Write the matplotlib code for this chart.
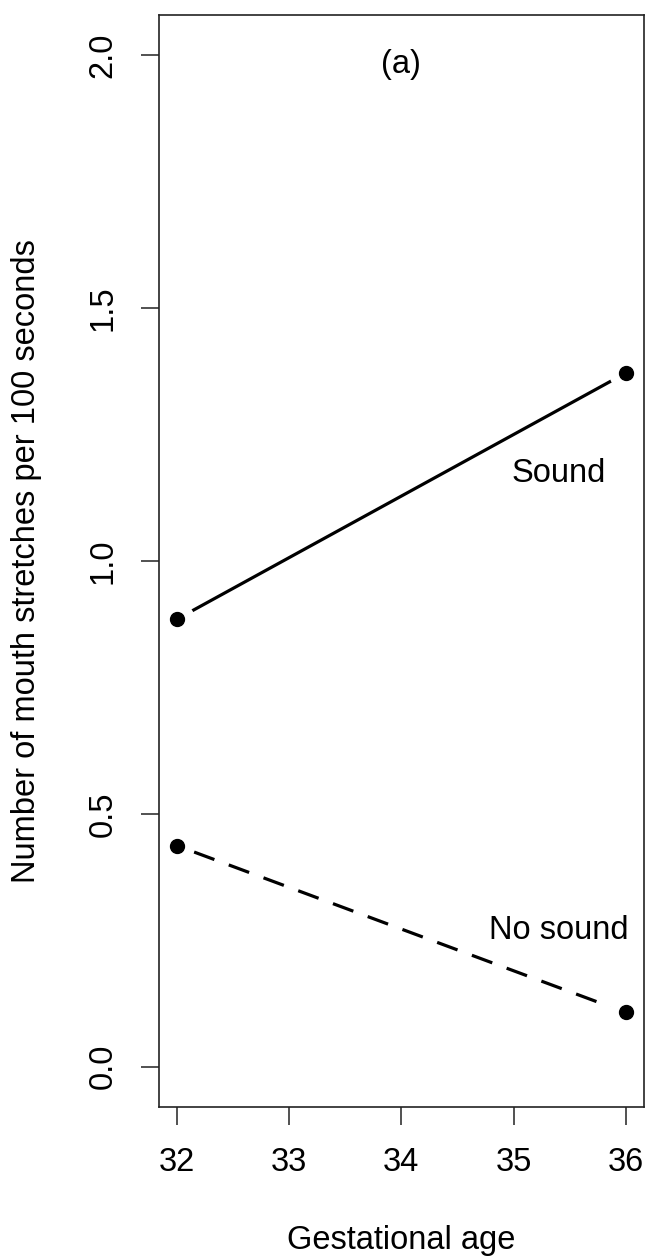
import matplotlib
matplotlib.use("Agg")
import matplotlib.pyplot as plt

plt.rcParams["font.family"] = ["Liberation Sans", "DejaVu Sans"]

# values
gest_age = [32, 36]
sound = [0.885, 1.372]
no_sound = [0.437, 0.107]
x_ticks = [32, 33, 34, 35, 36]
y_ticks = [0.0, 0.5, 1.0, 1.5, 2.0]

FS = 23.5

fig = plt.figure(figsize=(6.49, 12.6), dpi=100)
ax = fig.add_axes([0.245, 0.1214, 0.747, 0.8667])


def r_line(x, y, dashed=False):
    # R type="b": line with gaps around the points
    ls = (5.9, (6.8, 4.8)) if dashed else "-"
    ax.plot(x, y, color="black", lw=2.3, ls=ls, zorder=1)
    ax.plot(x, y, ls="none", marker="o", ms=25, mfc="white", mec="none", zorder=1.5)
    ax.plot(x, y, ls="none", marker="o", ms=10, mfc="black", mec="black", zorder=3)


r_line(gest_age, sound)
r_line(gest_age, no_sound, dashed=True)

ax.text(35.40, 1.174, "Sound", fontsize=FS, ha="center", va="center")
ax.text(35.40, 0.269, "No sound", fontsize=FS, ha="center", va="center")
ax.text(34.0, 1.982, "(a)", fontsize=FS, ha="center", va="center")

ax.set_xlim(31.84, 36.16)
ax.set_ylim(-0.08, 2.08)
ax.set_xticks(x_ticks)
ax.set_yticks(y_ticks)
ax.set_yticklabels([f"{v:.1f}" for v in y_ticks], rotation=90, va="center")
ax.tick_params(axis="both", length=13, width=1.1, labelsize=FS, color="#222222")
ax.tick_params(axis="x", pad=16)
ax.tick_params(axis="y", pad=16)
for sp in ax.spines.values():
    sp.set_linewidth(1.2)
    sp.set_color("#222222")

ax.set_xlabel("Gestational age", fontsize=FS, va="center")
ax.xaxis.set_label_coords(0.5, -0.1218)
ax.set_ylabel("Number of mouth stretches per 100 seconds", fontsize=FS, va="center")
ax.yaxis.set_label_coords(-0.274, 0.5)

fig.savefig("out.png", dpi=100, facecolor="white")
